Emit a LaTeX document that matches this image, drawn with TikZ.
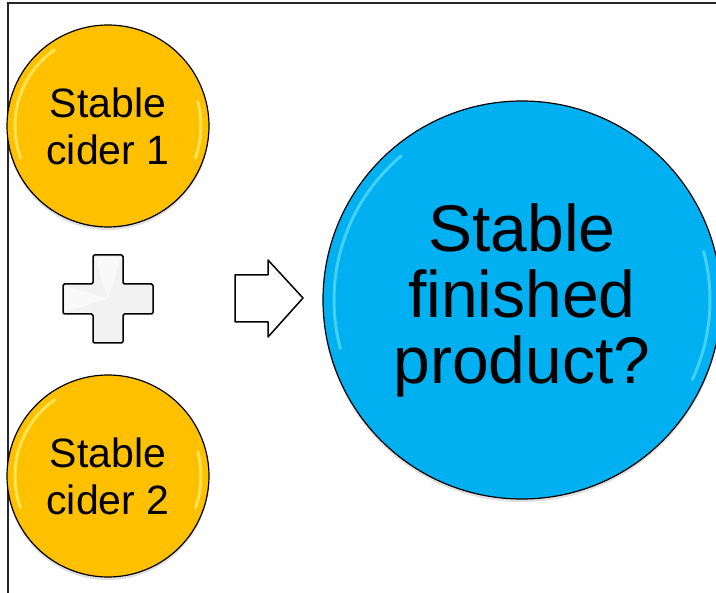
\documentclass[tikz,border=0pt]{standalone}
\usepackage{fontspec}
\setmainfont{Liberation Sans}
\usetikzlibrary{shadows,calc}
\definecolor{ciderfill}{HTML}{FFC000}
\definecolor{ciderglow}{HTML}{FFF27A}
\definecolor{prodfill}{HTML}{00B0F0}
\definecolor{prodglow}{HTML}{5FE0FF}
\definecolor{plusfill}{HTML}{F2F2F2}
\tikzset{
  ball/.style={circle, draw=black, line width=1.2pt, inner sep=0pt, align=center,
    drop shadow={opacity=0.25, shadow xshift=0pt, shadow yshift=-3pt}},
  ciderball/.style={ball, fill=ciderfill, minimum size=202pt,
    font=\fontsize{41}{47}\selectfont},
  prodball/.style={ball, fill=prodfill, minimum size=398pt,
    font=\fontsize{66}{66}\selectfont},
  gloss/.style={line width=3pt, line cap=round, opacity=0.7},
  outline/.style={draw=black, line width=1.5pt, line join=round},
}
\begin{document}
\begin{tikzpicture}[x=1pt, y=-1pt]
  \useasboundingbox (0,0) rectangle (716,593);
  \fill[white] (0,0) rectangle (716,593);
  % frame edges
  \draw[line width=1.5pt, black!85] (8,593) -- (8,3) -- (716,3);

  % the two ciders (y axis points down, so angles run clockwise)
  \node[ciderball] (c1) at (108,126) {Stable\\cider 1};
  \node[ciderball] (c2) at (108,476) {Stable\\cider 2};
  \foreach \c in {c1,c2} {
    \draw[gloss, ciderglow] ($(\c.center)+(-125:93)$) arc[start angle=-125, end angle=-200, radius=93];
    \draw[gloss, ciderglow] ($(\c.center)+(20:93)$) arc[start angle=20, end angle=-15, radius=93];
  }

  % the finished product
  \node[prodball] (p) at (522,300) {Stable\\finished\\product?};
  \draw[gloss, prodglow] ($(p.center)+(-130:188)$) arc[start angle=-130, end angle=-195, radius=188];
  \draw[gloss, prodglow] ($(p.center)+(25:188)$) arc[start angle=25, end angle=-15, radius=188];

  % plus sign
  \coordinate (plus) at (108,299);
  \filldraw[outline, fill=plusfill, rounded corners=1.5pt]
    ($(plus)+(-15,-44)$) -- ($(plus)+(15,-44)$) -- ($(plus)+(15,-15)$) --
    ($(plus)+(45,-15)$) -- ($(plus)+(45,15)$) -- ($(plus)+(15,15)$) --
    ($(plus)+(15,44)$) -- ($(plus)+(-15,44)$) -- ($(plus)+(-15,15)$) --
    ($(plus)+(-45,15)$) -- ($(plus)+(-45,-15)$) -- ($(plus)+(-15,-15)$) -- cycle;
  \fill[white, opacity=0.6] ($(plus)+(-13,-42)$) -- ($(plus)+(13,-42)$) -- (plus) -- cycle;
  \fill[white, opacity=0.6] ($(plus)+(-43,-13)$) -- ($(plus)+(-43,13)$) -- (plus) -- cycle;

  % block arrow
  \coordinate (tip) at (303,298);
  \filldraw[outline, fill=white]
    (235,275) -- (268,275) -- (268,260) -- (tip) -- (268,337) -- (268,322) -- (235,322) -- cycle;
\end{tikzpicture}
\end{document}
